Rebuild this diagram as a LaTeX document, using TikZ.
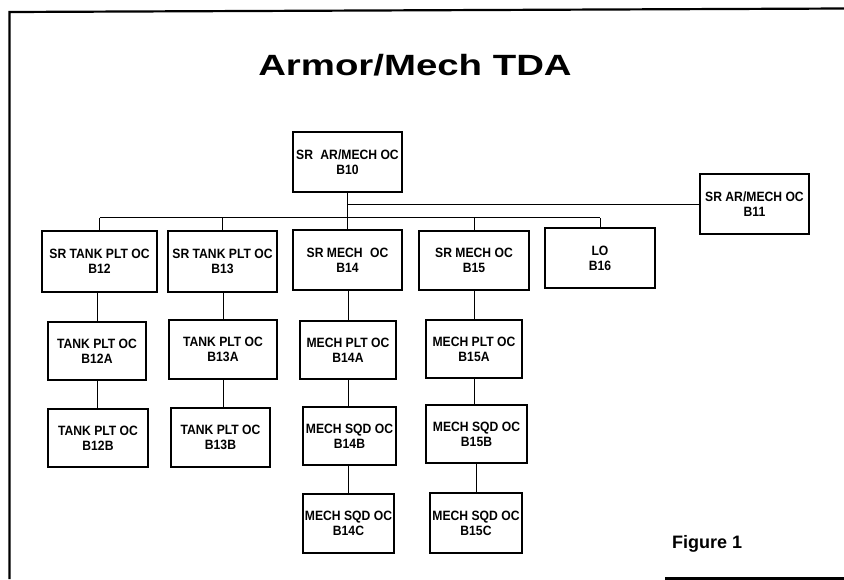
\documentclass[tikz,border=0pt]{standalone}
\usepackage{fontspec}
\setmainfont{Liberation Sans}
\newfontfamily\boxfont[FakeStretch=0.9]{Liberation Sans}
\newfontfamily\titlefont[FakeStretch=1.31]{Liberation Sans}
\newfontfamily\figfont{Liberation Sans}
\tikzset{
  orgbox/.style={draw, line width=1.1pt, inner sep=0pt, align=center,
    font=\boxfont\bfseries\fontsize{13.5}{15}\selectfont},
  link/.style={line width=0.9pt},
  frameline/.style={line width=2.2pt},
}
\begin{document}
\begin{tikzpicture}[x=1pt,y=-1pt]
\useasboundingbox (0,0) rectangle (844,579);
% frame
\draw[frameline] (9.5,579) -- (9.5,12) -- (844,8.5);
\draw[frameline] (665,578.5) -- (844,578.5);
% title
\node[anchor=base, font=\titlefont\bfseries\fontsize{29.3}{32}\selectfont, inner sep=0pt] (title) at (415,75) {Armor/Mech TDA};
\node[anchor=base west, font=\figfont\bfseries\fontsize{18}{20}\selectfont, inner sep=0pt] (fig) at (672,548) {Figure 1};
% boxes
\node[orgbox, minimum width=109pt, minimum height=60pt] (B10) at (347.5,162) {SR\hspace{4pt} AR/MECH OC\\B10};
\node[orgbox, minimum width=109pt, minimum height=60pt] (B11) at (754.5,204) {SR AR/MECH OC\\B11};
\node[orgbox, minimum width=115pt, minimum height=61pt] (B12) at (99.5,261.5) {SR TANK PLT OC\\B12};
\node[orgbox, minimum width=109pt, minimum height=61pt] (B13) at (222.5,261.5) {SR TANK PLT OC\\B13};
\node[orgbox, minimum width=109pt, minimum height=60pt] (B14) at (347.5,260) {SR MECH\hspace{4pt} OC\\B14};
\node[orgbox, minimum width=110pt, minimum height=59pt] (B15) at (474,260.5) {SR MECH OC\\B15};
\node[orgbox, minimum width=110pt, minimum height=60pt] (B16) at (600,258) {LO\\B16};
\node[orgbox, minimum width=98pt, minimum height=58pt] (B12A) at (97,351) {TANK PLT OC\\B12A};
\node[orgbox, minimum width=108pt, minimum height=59pt] (B13A) at (223,349.5) {TANK PLT OC\\B13A};
\node[orgbox, minimum width=96pt, minimum height=58pt] (B14A) at (348,350) {MECH PLT OC\\B14A};
\node[orgbox, minimum width=96pt, minimum height=58pt] (B15A) at (474,349) {MECH PLT OC\\B15A};
\node[orgbox, minimum width=100pt, minimum height=58pt] (B12B) at (98,438) {TANK PLT OC\\B12B};
\node[orgbox, minimum width=99pt, minimum height=59pt] (B13B) at (220.5,437.5) {TANK PLT OC\\B13B};
\node[orgbox, minimum width=93pt, minimum height=58pt] (B14B) at (349.5,436) {MECH SQD OC\\B14B};
\node[orgbox, minimum width=101pt, minimum height=58pt] (B15B) at (476.5,434) {MECH SQD OC\\B15B};
\node[orgbox, minimum width=91pt, minimum height=59pt] (B14C) at (348.5,523.5) {MECH SQD OC\\B14C};
\node[orgbox, minimum width=92pt, minimum height=60pt] (B15C) at (476,523) {MECH SQD OC\\B15C};
% connectors
\coordinate (bus) at (0,217.5);
\draw[link] (B10.south) -- (B10.south |- B14.north);
\draw[link] (B11.west) -- (B11.west -| B10.south);
\draw[link] (B12.north |- bus) -- (B16.north |- bus);
\foreach \n in {B12,B13,B15,B16}{\draw[link] (\n.north) -- (\n.north |- bus);}
\draw[link] (B12A.north) -- (B12A.north |- B12.south);
\draw[link] (B13A.north) -- (B13A.north |- B13.south);
\draw[link] (B14A.north) -- (B14A.north |- B14.south);
\draw[link] (B15A.north) -- (B15A.north |- B15.south);
\draw[link] (B12B.north -| B12A.south) -- (B12A.south);
\draw[link] (B13B.north -| B13A.south) -- (B13A.south);
\draw[link] (B14B.north -| B14A.south) -- (B14A.south);
\draw[link] (B15B.north -| B15A.south) -- (B15A.south);
\draw[link] (B14C.north) -- (B14C.north |- B14B.south);
\draw[link] (B15C.north) -- (B15C.north |- B15B.south);
\end{tikzpicture}
\end{document}
